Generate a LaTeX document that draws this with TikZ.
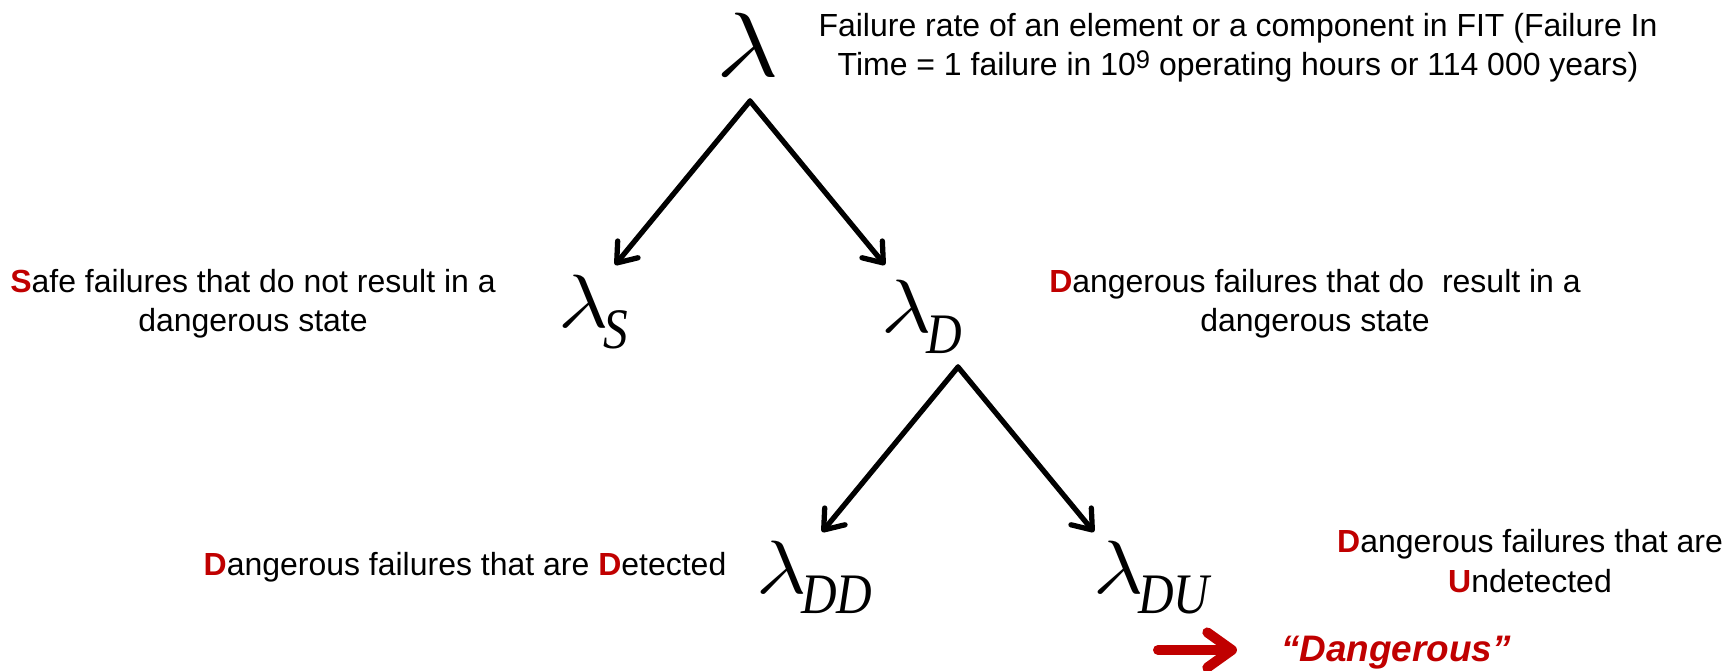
\documentclass[tikz,border=0pt]{standalone}
\usepackage{graphicx}
\usepackage{fontspec}
\setmainfont{Liberation Sans}
\newfontfamily\subfamily{Liberation Serif}
\usetikzlibrary{arrows.meta}
\definecolor{alarmred}{HTML}{C00000}
% red initial letter
\newcommand{\redini}[1]{\textbf{\color{alarmred}#1}}
% lambda with subscript
\newcommand{\lamsub}[1]{\scalebox{4.9}[4.3]{$\lambda$}\kern-3pt\raisebox{-11.4pt}{\scalebox{0.86}[1]{\subfamily\itshape\fontsize{32.6}{32.6}\selectfont #1}}}

\tikzset{
  note/.style={font=\fontsize{18.2}{22.2}\selectfont, align=center, inner sep=0pt, anchor=base},
  lamnode/.style={inner sep=0pt, anchor=base west},
  split/.style={line width=3pt, line cap=round, -{Straight Barb[length=10pt, width=15pt, round]}},
}

\begin{document}
\begin{tikzpicture}[x=0.02cm, y=-0.02cm]
  \useasboundingbox (0,0) rectangle (1736,671);

  % lambda tree
  \node[lamnode] (lam) at (716,77) {\scalebox{6.1}[5.2]{$\lambda$}};
  \node[lamnode] (lamS) at (558,328) {\lamsub{S}};
  \node[lamnode] (lamD) at (881,333) {\lamsub{D}};
  \node[lamnode] (lamDD) at (756,593) {\lamsub{DD}};
  \node[lamnode] (lamDU) at (1093,593) {\lamsub{DU}};

  \coordinate (forkA) at (750,101);
  \coordinate (forkB) at (958,367);
  \draw[split] (forkA) -- (615,265);
  \draw[split] (forkA) -- (885,265);
  \draw[split] (forkB) -- (822,532);
  \draw[split] (forkB) -- (1094,532);

  % explanations (base = last line)
  \node[note] (fit) at (1238,76) {Failure rate of an element or a component in FIT (Failure In\\
    Time = 1 failure in 10\raisebox{4.5pt}{\fontsize{14.5}{14.5}\selectfont 9} operating hours or 114 000 years)};
  \node[note] (safe) at (253,332) {\redini{S}afe failures that do not result in a\\dangerous state};
  \node[note] (dang) at (1315,332) {\redini{D}angerous failures that do~ result in a\\dangerous state};
  \node[note] (det) at (465,575) {\redini{D}angerous failures that are \redini{D}etected};
  \node[note] (undet) at (1530,592) {\redini{D}angerous failures that are\\\redini{U}ndetected};

  % verdict
  \node[inner sep=0pt, anchor=base, text=alarmred, font=\fontsize{21}{21}\selectfont\bfseries\itshape] (verdict) at (1396,661) {“Dangerous”};
  \coordinate (verdictfrom) at (1158,650);
  \draw[alarmred, line width=5.7pt, line cap=round, -{Straight Barb[length=14pt, width=20pt, round]}] (verdictfrom) -- ([xshift=-25pt]verdict.west |- verdictfrom);
\end{tikzpicture}
\end{document}
